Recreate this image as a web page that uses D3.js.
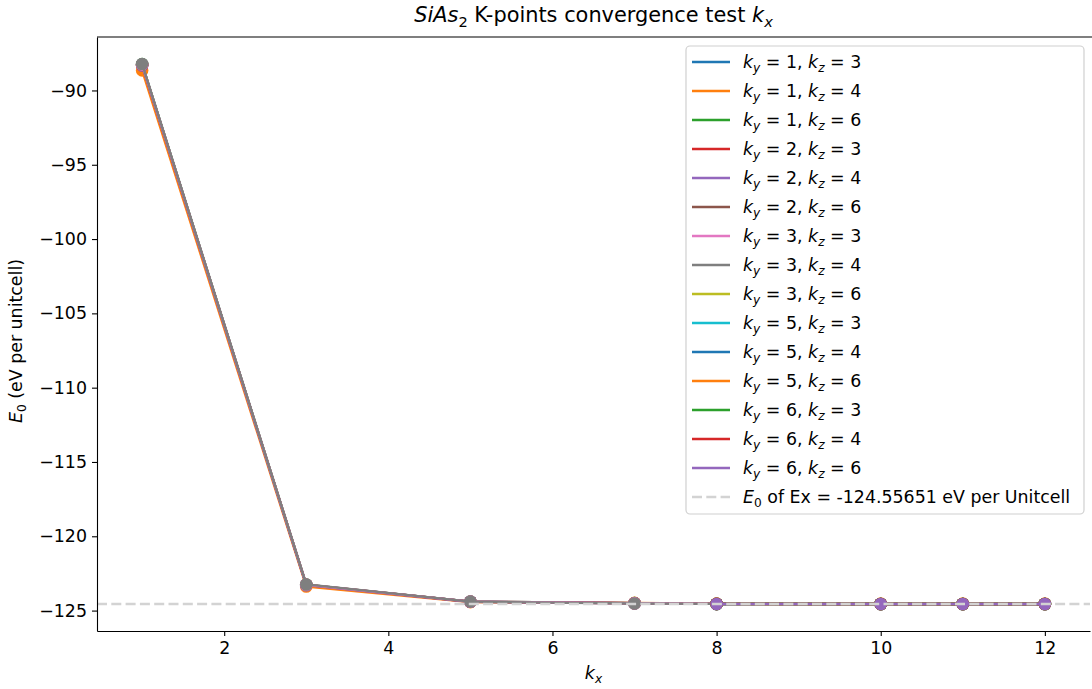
<!DOCTYPE html>
<html>
<head>
<meta charset="utf-8">
<script src="https://cdn.jsdelivr.net/npm/d3@7"></script>
<style>
  body { margin: 0; background: #fff; }
  svg { font-family: "DejaVu Sans", sans-serif; }
</style>
</head>
<body>
<div id="chart"></div>
<script>
// k-point grid labels
const kyVals = [1, 1, 1, 2, 2, 2, 3, 3, 3, 5, 5, 5, 6, 6, 6];
const kzVals = [3, 4, 6, 3, 4, 6, 3, 4, 6, 3, 4, 6, 3, 4, 6];

// kx values for the low-ky runs and for the others
const kxFull = [1, 3, 5, 7, 8, 10, 11, 12];
const kxHigh = [8, 10, 11, 12];

// E0 values (eV per unitcell)
const e0_1_3 = [-88.25, -123.28, -124.41, -124.50, -124.55, -124.555, -124.556, -124.556];
const e0_1_4 = [-88.65, -123.38, -124.43, -124.48, -124.53, -124.535, -124.535, -124.535];
const e0_1_6 = [-88.23, -123.25, -124.40, -124.50, -124.55, -124.556, -124.556, -124.556];
const e0_2_3 = [-88.30, -123.27, -124.41, -124.51, -124.55, -124.556, -124.556, -124.556];
const e0_2_4 = [-88.32, -123.29, -124.41, -124.51, -124.55, -124.556, -124.556, -124.557];
const e0_2_6 = [-88.28, -123.26, -124.40, -124.51, -124.55, -124.556, -124.556, -124.556];
const e0_3_3 = [-88.26, -123.26, -124.40, -124.51, -124.55, -124.556, -124.556, -124.556];
const e0_3_4 = [-88.22, -123.24, -124.40, -124.52, -124.55, -124.556, -124.556, -124.556];
const e0_3_6 = [-124.552, -124.556, -124.556, -124.556];
const e0_5_3 = [-124.553, -124.556, -124.556, -124.557];
const e0_5_4 = [-124.552, -124.556, -124.556, -124.556];
const e0_5_6 = [-124.551, -124.556, -124.556, -124.556];
const e0_6_3 = [-124.553, -124.556, -124.556, -124.557];
const e0_6_4 = [-124.552, -124.556, -124.557, -124.556];
const e0_6_6 = [-124.552, -124.556, -124.556, -124.556];

const e0Ex = -124.55651;

const seriesValues = [e0_1_3, e0_1_4, e0_1_6, e0_2_3, e0_2_4, e0_2_6, e0_3_3, e0_3_4,
                      e0_3_6, e0_5_3, e0_5_4, e0_5_6, e0_6_3, e0_6_4, e0_6_6];

const xTicks = [2, 4, 6, 8, 10, 12];
const yTicks = [-90, -95, -100, -105, -110, -115, -120, -125];

const colors = ["#1f77b4", "#ff7f0e", "#2ca02c", "#d62728", "#9467bd",
                "#8c564b", "#e377c2", "#7f7f7f", "#bcbd22", "#17becf"];

const W = 1092, H = 689;
const margin = { top: 37, right: 2, bottom: 58, left: 97 };
const fs = 17.4;

const series = seriesValues.map((vals, i) => {
  const xs = vals.length === kxFull.length ? kxFull : kxHigh;
  return {
    ky: kyVals[i], kz: kzVals[i],
    color: colors[i % colors.length],
    points: vals.map((v, j) => ({ kx: xs[j], e0: v }))
  };
});

// matplotlib style 5% margins
const allX = series.flatMap(s => s.points.map(p => p.kx));
const allY = series.flatMap(s => s.points.map(p => p.e0));
const [x0, x1] = d3.extent(allX);
const [y0, y1] = d3.extent(allY);
const xPad = (x1 - x0) * 0.05, yPad = (y1 - y0) * 0.05;

const x = d3.scaleLinear().domain([x0 - xPad, x1 + xPad]).range([margin.left, W - margin.right]);
const y = d3.scaleLinear().domain([y0 - yPad, y1 + yPad]).range([H - margin.bottom, margin.top]);

const svg = d3.select("#chart").append("svg")
  .attr("width", W).attr("height", H);

// writes mathtext-like parts into a text element
function mathText(sel, parts, size) {
  let shifted = 0;
  parts.forEach(p => {
    const t = sel.append("tspan").text(p.t);
    if (p.italic) t.attr("font-style", "italic");
    if (p.sub) {
      t.attr("font-size", size * 0.7).attr("dy", size * 0.22 - shifted);
      shifted = size * 0.22;
    } else if (shifted) {
      t.attr("dy", -shifted);
      shifted = 0;
    }
  });
}

// lines + markers
const line = d3.line().x(d => x(d.kx)).y(d => y(d.e0));
const g = svg.append("g");
series.forEach(s => {
  g.append("path")
    .datum(s.points)
    .attr("fill", "none")
    .attr("stroke", s.color)
    .attr("stroke-width", 2.4)
    .attr("stroke-linejoin", "round")
    .attr("d", line);
  g.selectAll(null)
    .data(s.points)
    .enter().append("circle")
    .attr("cx", d => x(d.kx))
    .attr("cy", d => y(d.e0))
    .attr("r", 6.3)
    .attr("fill", s.color);
});

// reference line
svg.append("line")
  .attr("x1", margin.left).attr("x2", W - margin.right)
  .attr("y1", y(e0Ex)).attr("y2", y(e0Ex))
  .attr("stroke", "#d3d3d3")
  .attr("stroke-width", 2.6)
  .attr("stroke-dasharray", "10,4.3");

// axes
const xAxis = svg.append("g")
  .attr("transform", `translate(0,${H - margin.bottom})`)
  .call(d3.axisBottom(x).tickValues(xTicks).tickSizeInner(5).tickSizeOuter(0).tickPadding(5));
const yAxis = svg.append("g")
  .attr("transform", `translate(${margin.left},0)`)
  .call(d3.axisLeft(y).tickValues(yTicks).tickSizeInner(5).tickSizeOuter(0).tickPadding(5)
    .tickFormat(d => d3.format("d")(d).replace("-", "\u2212")));

[xAxis, yAxis].forEach(a => {
  a.select(".domain").attr("stroke", "#000").attr("stroke-width", 1.1);
  a.selectAll(".tick line").attr("stroke", "#000").attr("stroke-width", 1.1);
  a.selectAll(".tick text").attr("font-size", fs).attr("fill", "#000")
    .attr("font-family", "DejaVu Sans");
});
xAxis.selectAll(".tick text").attr("dy", "0.72em");

// top spine
svg.append("line")
  .attr("x1", margin.left).attr("x2", W)
  .attr("y1", margin.top).attr("y2", margin.top)
  .attr("stroke", "#000").attr("stroke-width", 1.1);

// title
mathText(svg.append("text")
  .attr("x", (margin.left + W - margin.right) / 2).attr("y", 22)
  .attr("text-anchor", "middle").attr("font-size", fs * 1.2),
  [{ t: "SiAs", italic: true }, { t: "2", sub: true },
   { t: " K-points convergence test " }, { t: "k", italic: true }, { t: "x", italic: true, sub: true }], fs * 1.2);

// axis labels
mathText(svg.append("text")
  .attr("x", (margin.left + W - margin.right) / 2).attr("y", 679)
  .attr("text-anchor", "middle").attr("font-size", fs),
  [{ t: "k", italic: true }, { t: "x", italic: true, sub: true }], fs);

mathText(svg.append("text")
  .attr("transform", `translate(22,${(margin.top + H - margin.bottom) / 2 + 7}) rotate(-90)`)
  .attr("text-anchor", "middle").attr("font-size", fs),
  [{ t: "E", italic: true }, { t: "0", sub: true }, { t: " (eV per unitcell)" }], fs);

// legend
const lg = svg.append("g");
const legX = 686, legY = 46, rowH = 29;
const entries = series.map(s => ({
  color: s.color, dash: null,
  parts: [{ t: "k", italic: true }, { t: "y", italic: true, sub: true }, { t: ` = ${s.ky}, ` },
          { t: "k", italic: true }, { t: "z", italic: true, sub: true }, { t: ` = ${s.kz}` }]
}));
entries.push({
  color: "#d3d3d3", dash: "10,4.3",
  parts: [{ t: "E", italic: true }, { t: "0", sub: true }, { t: ` of Ex = ${e0Ex} eV per Unitcell` }]
});

lg.append("rect")
  .attr("x", legX).attr("y", legY)
  .attr("width", 398).attr("height", entries.length * rowH + 4)
  .attr("rx", 4)
  .attr("fill", "#fff").attr("fill-opacity", 0.8)
  .attr("stroke", "#d0d0d0").attr("stroke-width", 1.2);

entries.forEach((e, i) => {
  const cy = legY + 16 + i * rowH;
  lg.append("line")
    .attr("x1", legX + 6).attr("x2", legX + 44)
    .attr("y1", cy).attr("y2", cy)
    .attr("stroke", e.color).attr("stroke-width", 2.6)
    .attr("stroke-dasharray", e.dash);
  mathText(lg.append("text")
    .attr("x", legX + 57).attr("y", cy + 6)
    .attr("font-size", fs), e.parts, fs);
});
</script>
</body>
</html>
